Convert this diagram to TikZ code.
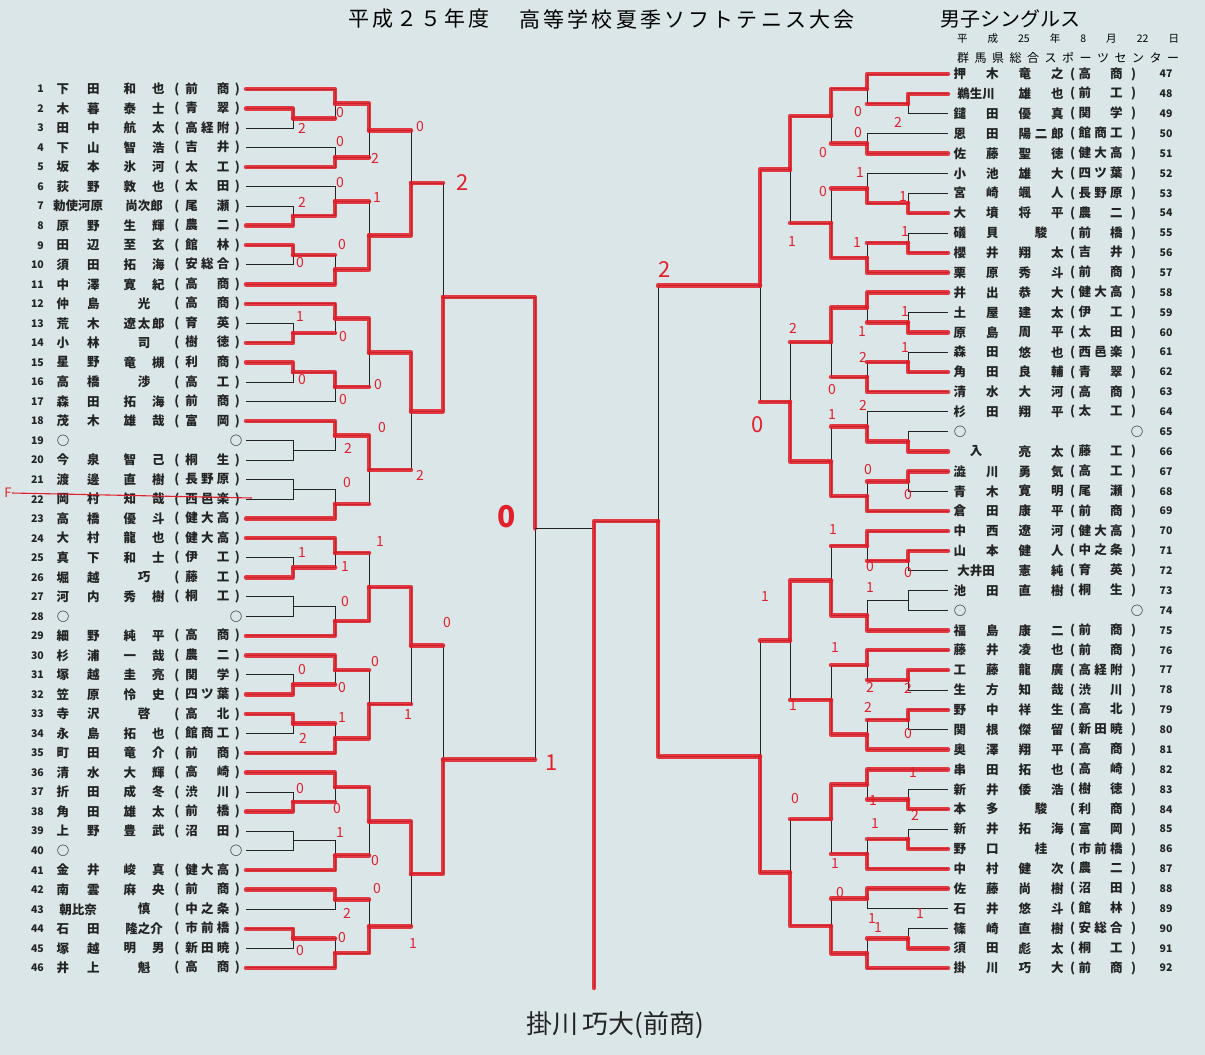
\documentclass[tikz,border=0pt]{standalone}
\usepackage{fontspec}
\setmainfont{Noto Sans CJK JP}
\newfontfamily\ttlfont[LetterSpace=15]{Noto Sans CJK JP}
\usetikzlibrary{calc}
\definecolor{paper}{RGB}{218,230,232}
\definecolor{pen}{RGB}{226,32,44}
\definecolor{ink}{RGB}{35,35,35}

\tikzset{
  br/.style={draw=ink, line width=0.9pt},
  win/.style={draw=pen, line width=4.5pt, opacity=.88, line cap=round, line join=round},
  num/.style={inner sep=0pt, text=ink, font=\fontsize{10.5}{10.5}\selectfont\bfseries},
  nm/.style={inner sep=0pt, text=ink, font=\fontsize{12.5}{12.5}\selectfont\bfseries},
  score/.style={inner sep=0pt, text=pen, font=\fontsize{14}{14}\selectfont},
  bigscore/.style={inner sep=0pt, text=pen, font=\fontsize{22}{22}\selectfont}
}

\newcommand\sprd[2]{#1\hfill #2}
\newcommand\sprdd[3]{#1\hfill #2\hfill #3}

% one row of the left list
\newcommand\nameL[4]{%
  \pgfmathsetmacro\yy{89+(#1-1)*19.53}
  \node[num, anchor=east] (nl#1) at (44,\yy) {#1};
  \node[nm] (snl#1) at (78,\yy) {\makebox[43pt]{#2}};
  \node[nm] (gnl#1) at (144,\yy) {\makebox[41pt]{#3}};
  \node[nm] (cnl#1) at (207,\yy) {(\hspace{6pt}\makebox[44pt]{#4}\hspace{5.5pt})};
  \coordinate (p#1) at (246,\yy);
}
\newcommand\byeL[1]{%
  \pgfmathsetmacro\yy{89+(#1-1)*19.53}
  \node[num, anchor=east] (nl#1) at (44,\yy) {#1};
  \node[nm] (snl#1) at (63,\yy) {○};
  \node[nm] (cnl#1) at (236,\yy) {○};
  \coordinate (p#1) at (246,\yy);
}
% one row of the right list
\newcommand\nameR[4]{%
  \pgfmathsetmacro\yy{74+(#1-47)*19.87}
  \node[num] (nr#1) at (1166,\yy) {#1};
  \node[nm] (snr#1) at (976,\yy) {\makebox[45pt]{#2}};
  \node[nm] (gnr#1) at (1041,\yy) {\makebox[45pt]{#3}};
  \node[nm] (cnr#1) at (1103,\yy) {(\hspace{3.5pt}\makebox[44pt]{#4}\hspace{8.5pt})};
  \coordinate (p#1) at (948,\yy);
}
\newcommand\byeR[1]{%
  \pgfmathsetmacro\yy{74+(#1-47)*19.87}
  \node[num] (nr#1) at (1166,\yy) {#1};
  \node[nm] (snr#1) at (960,\yy) {○};
  \node[nm] (cnr#1) at (1137,\yy) {○};
  \coordinate (p#1) at (948,\yy);
}
% a match: top, bottom, column, result, winner
% 0 none, 1 top, 2 bottom, 3 top (bottom came in red), 4 bottom (top came in red)
\newcommand\bout[5]{%
  \draw[br] (#1) -- (#1 -| #3) -- (#2 -| #3) -- (#2);
  \coordinate (#4) at ($(#1 -| #3)!.5!(#2 -| #3)$);
  \ifcase#5\relax
  \or \draw[win] (#1) -- (#1 -| #3) -- (#4);
  \or \draw[win] (#2) -- (#2 -| #3) -- (#4);
  \or \draw[win] (#1) -- (#1 -| #3) -- (#4); \draw[win] (#2) -- (#2 -| #3);
  \or \draw[win] (#2) -- (#2 -| #3) -- (#4); \draw[win] (#1) -- (#1 -| #3);
  \fi}

\begin{document}
\begin{tikzpicture}[x=1pt, y=-1pt]
\fill[paper] (0,0) rectangle (1205,1055);
\useasboundingbox (0,0) rectangle (1205,1055);

% heading
\node[font=\ttlfont\fontsize{21}{21}\selectfont] (ttl1) at (419,19) {平成２５年度};
\node[font=\ttlfont\fontsize{21}{21}\selectfont] (ttl2) at (687,19) {高等学校夏季ソフトテニス大会};
\node[font=\fontsize{20}{20}\selectfont] (ttl3) at (1010,19) {男子シングルス};
\node[inner sep=0pt, font=\fontsize{10.5}{10.5}\selectfont] (date) at (1068,39)
  {\makebox[222pt]{平\hfill 成\hfill 25\hfill 年\hfill 8\hfill 月\hfill 22\hfill 日}};
\node[inner sep=0pt, font=\fontsize{12}{12}\selectfont] (venue) at (1068,58)
  {\makebox[222pt]{群\hfill 馬\hfill 県\hfill 総\hfill 合\hfill ス\hfill ポ\hfill ー\hfill ツ\hfill セ\hfill ン\hfill タ\hfill ー}};

% left list
\nameL{1}{\sprd 下田}{\sprd 和也}{\sprd 前商}
\nameL{2}{\sprd 木暮}{\sprd 泰士}{\sprd 青翠}
\nameL{3}{\sprd 田中}{\sprd 航太}{\sprdd 高経附}
\nameL{4}{\sprd 下山}{\sprd 智浩}{\sprd 吉井}
\nameL{5}{\sprd 坂本}{\sprd 氷河}{\sprd 太工}
\nameL{6}{\sprd 荻野}{\sprd 敦也}{\sprd 太田}
\nameL{7}{勅使河原}{尚次郎}{\sprd 尾瀬}
\nameL{8}{\sprd 原野}{\sprd 生輝}{\sprd 農二}
\nameL{9}{\sprd 田辺}{\sprd 至玄}{\sprd 館林}
\nameL{10}{\sprd 須田}{\sprd 拓海}{\sprdd 安総合}
\nameL{11}{\sprd 中澤}{\sprd 寛紀}{\sprd 高商}
\nameL{12}{\sprd 仲島}{光}{\sprd 高商}
\nameL{13}{\sprd 荒木}{\sprdd 遼太郎}{\sprd 育英}
\nameL{14}{\sprd 小林}{司}{\sprd 樹徳}
\nameL{15}{\sprd 星野}{\sprd 竜槻}{\sprd 利商}
\nameL{16}{\sprd 高橋}{渉}{\sprd 高工}
\nameL{17}{\sprd 森田}{\sprd 拓海}{\sprd 前商}
\nameL{18}{\sprd 茂木}{\sprd 雄哉}{\sprd 富岡}
\byeL{19}
\nameL{20}{\sprd 今泉}{\sprd 智己}{\sprd 桐生}
\nameL{21}{\sprd 渡邊}{\sprd 直樹}{\sprdd 長野原}
\nameL{22}{\sprd 岡村}{\sprd 知哉}{\sprdd 西邑楽}
\nameL{23}{\sprd 高橋}{\sprd 優斗}{\sprdd 健大高}
\nameL{24}{\sprd 大村}{\sprd 龍也}{\sprdd 健大高}
\nameL{25}{\sprd 真下}{\sprd 和士}{\sprd 伊工}
\nameL{26}{\sprd 堀越}{巧}{\sprd 藤工}
\nameL{27}{\sprd 河内}{\sprd 秀樹}{\sprd 桐工}
\byeL{28}
\nameL{29}{\sprd 細野}{\sprd 純平}{\sprd 高商}
\nameL{30}{\sprd 杉浦}{\sprd 一哉}{\sprd 農二}
\nameL{31}{\sprd 塚越}{\sprd 圭亮}{\sprd 関学}
\nameL{32}{\sprd 笠原}{\sprd 怜史}{\sprdd 四ツ葉}
\nameL{33}{\sprd 寺沢}{啓}{\sprd 高北}
\nameL{34}{\sprd 永島}{\sprd 拓也}{\sprdd 館商工}
\nameL{35}{\sprd 町田}{\sprd 竜介}{\sprd 前商}
\nameL{36}{\sprd 清水}{\sprd 大輝}{\sprd 高崎}
\nameL{37}{\sprd 折田}{\sprd 成冬}{\sprd 渋川}
\nameL{38}{\sprd 角田}{\sprd 雄太}{\sprd 前橋}
\nameL{39}{\sprd 上野}{\sprd 豊武}{\sprd 沼田}
\byeL{40}
\nameL{41}{\sprd 金井}{\sprd 峻真}{\sprdd 健大高}
\nameL{42}{\sprd 南雲}{\sprd 麻央}{\sprd 前商}
\nameL{43}{朝比奈}{慎}{\sprdd 中之条}
\nameL{44}{\sprd 石田}{隆之介}{\sprdd 市前橋}
\nameL{45}{\sprd 塚越}{\sprd 明男}{\sprdd 新田暁}
\nameL{46}{\sprd 井上}{魁}{\sprd 高商}

% right list
\nameR{47}{\sprd 押木}{\sprd 竜之}{\sprd 高商}
\nameR{48}{鵜生川}{\sprd 雄也}{\sprd 前工}
\nameR{49}{\sprd 鑓田}{\sprd 優真}{\sprd 関学}
\nameR{50}{\sprd 恩田}{\sprdd 陽二郎}{\sprdd 館商工}
\nameR{51}{\sprd 佐藤}{\sprd 聖徳}{\sprdd 健大高}
\nameR{52}{\sprd 小池}{\sprd 雄大}{\sprdd 四ツ葉}
\nameR{53}{\sprd 宮崎}{\sprd 颯人}{\sprdd 長野原}
\nameR{54}{\sprd 大墳}{\sprd 将平}{\sprd 農二}
\nameR{55}{\sprd 礒貝}{駿}{\sprd 前橋}
\nameR{56}{\sprd 櫻井}{\sprd 翔太}{\sprd 吉井}
\nameR{57}{\sprd 栗原}{\sprd 秀斗}{\sprd 前商}
\nameR{58}{\sprd 井出}{\sprd 恭大}{\sprdd 健大高}
\nameR{59}{\sprd 土屋}{\sprd 建太}{\sprd 伊工}
\nameR{60}{\sprd 原島}{\sprd 周平}{\sprd 太田}
\nameR{61}{\sprd 森田}{\sprd 悠也}{\sprdd 西邑楽}
\nameR{62}{\sprd 角田}{\sprd 良輔}{\sprd 青翠}
\nameR{63}{\sprd 清水}{\sprd 大河}{\sprd 高商}
\nameR{64}{\sprd 杉田}{\sprd 翔平}{\sprd 太工}
\byeR{65}
\nameR{66}{入}{\sprd 亮太}{\sprd 藤工}
\nameR{67}{\sprd 澁川}{\sprd 勇気}{\sprd 高工}
\nameR{68}{\sprd 青木}{\sprd 寛明}{\sprd 尾瀬}
\nameR{69}{\sprd 倉田}{\sprd 康平}{\sprd 前商}
\nameR{70}{\sprd 中西}{\sprd 遼河}{\sprdd 健大高}
\nameR{71}{\sprd 山本}{\sprd 健人}{\sprdd 中之条}
\nameR{72}{大井田}{\sprd 憲純}{\sprd 育英}
\nameR{73}{\sprd 池田}{\sprd 直樹}{\sprd 桐生}
\byeR{74}
\nameR{75}{\sprd 福島}{\sprd 康二}{\sprd 前商}
\nameR{76}{\sprd 藤井}{\sprd 凌也}{\sprd 前商}
\nameR{77}{\sprd 工藤}{\sprd 龍廣}{\sprdd 高経附}
\nameR{78}{\sprd 生方}{\sprd 知哉}{\sprd 渋川}
\nameR{79}{\sprd 野中}{\sprd 祥生}{\sprd 高北}
\nameR{80}{\sprd 関根}{\sprd 傑留}{\sprdd 新田暁}
\nameR{81}{\sprd 奥澤}{\sprd 翔平}{\sprd 高商}
\nameR{82}{\sprd 串田}{\sprd 拓也}{\sprd 高崎}
\nameR{83}{\sprd 新井}{\sprd 倭浩}{\sprd 樹徳}
\nameR{84}{\sprd 本多}{駿}{\sprd 利商}
\nameR{85}{\sprd 新井}{\sprd 拓海}{\sprd 富岡}
\nameR{86}{\sprd 野口}{桂}{\sprdd 市前橋}
\nameR{87}{\sprd 中村}{\sprd 健次}{\sprd 農二}
\nameR{88}{\sprd 佐藤}{\sprd 尚樹}{\sprd 沼田}
\nameR{89}{\sprd 石井}{\sprd 悠斗}{\sprd 館林}
\nameR{90}{\sprd 篠崎}{\sprd 直樹}{\sprdd 安総合}
\nameR{91}{\sprd 須田}{\sprd 彪太}{\sprd 桐工}
\nameR{92}{\sprd 掛川}{\sprd 巧大}{\sprd 前商}

% columns
\coordinate (xl1) at (293,0); \coordinate (xl2) at (335,0); \coordinate (xl3) at (369,0);
\coordinate (xl4) at (411,0); \coordinate (xl5) at (443,0); \coordinate (xl6) at (535,0);
\coordinate (xr1) at (908,0); \coordinate (xr2) at (867,0); \coordinate (xr3) at (831,0);
\coordinate (xr4) at (790,0); \coordinate (xr5) at (760,0); \coordinate (xr6) at (658,0);

% left, upper quarter
\bout{p2}{p3}{xl1}{a1}{1}
\bout{p1}{a1}{xl2}{a2}{3}
\bout{p4}{p5}{xl2}{a3}{2}
\bout{a2}{a3}{xl3}{a4}{3}
\bout{p7}{p8}{xl1}{b1}{2}
\bout{p6}{b1}{xl2}{b2}{2}
\bout{p9}{p10}{xl1}{b3}{1}
\bout{b3}{p11}{xl2}{b4}{4}
\bout{b2}{b4}{xl3}{b5}{4}
\bout{a4}{b5}{xl4}{ab}{4}
\bout{p13}{p14}{xl1}{c1}{2}
\bout{p12}{c1}{xl2}{c2}{3}
\bout{p15}{p16}{xl1}{c3}{1}
\bout{c3}{p17}{xl2}{c4}{1}
\bout{c2}{c4}{xl3}{c5}{3}
\bout{p19}{p20}{xl1}{d1}{0}
\bout{p18}{d1}{xl2}{d2}{1}
\bout{p21}{p22}{xl1}{d3}{0}
\bout{d3}{p23}{xl2}{d4}{2}
\bout{d2}{d4}{xl3}{d5}{3}
\bout{c5}{d5}{xl4}{cd}{3}
\bout{ab}{cd}{xl5}{q1}{4}
% left, lower quarter
\bout{p25}{p26}{xl1}{e1}{2}
\bout{p24}{e1}{xl2}{e2}{3}
\bout{p27}{p28}{xl1}{e3}{0}
\bout{e3}{p29}{xl2}{e4}{2}
\bout{e2}{e4}{xl3}{e5}{4}
\bout{p31}{p32}{xl1}{f1}{2}
\bout{p30}{f1}{xl2}{f2}{3}
\bout{p33}{p34}{xl1}{f3}{1}
\bout{f3}{p35}{xl2}{f4}{4}
\bout{f2}{f4}{xl3}{f5}{4}
\bout{e5}{f5}{xl4}{ef}{3}
\bout{p37}{p38}{xl1}{g1}{2}
\bout{p36}{g1}{xl2}{g2}{3}
\bout{p39}{p40}{xl1}{g3}{0}
\bout{g3}{p41}{xl2}{g4}{2}
\bout{g2}{g4}{xl3}{g5}{3}
\bout{p42}{p43}{xl2}{h1}{1}
\bout{p44}{p45}{xl1}{h2}{1}
\bout{h2}{p46}{xl2}{h3}{4}
\bout{h1}{h3}{xl3}{h4}{4}
\bout{g5}{h4}{xl4}{gh}{3}
\bout{ef}{gh}{xl5}{q2}{4}
\bout{q1}{q2}{xl6}{lw}{3}

% right, upper quarter
\bout{p48}{p49}{xr1}{i1}{1}
\bout{p47}{i1}{xr2}{i2}{3}
\bout{p50}{p51}{xr2}{i3}{2}
\bout{i2}{i3}{xr3}{i4}{3}
\bout{p53}{p54}{xr1}{j1}{2}
\bout{p52}{j1}{xr2}{j2}{2}
\bout{p55}{p56}{xr1}{j3}{2}
\bout{j3}{p57}{xr2}{j4}{4}
\bout{j2}{j4}{xr3}{j5}{4}
\bout{i4}{j5}{xr4}{ij}{3}
\bout{p59}{p60}{xr1}{k1}{2}
\bout{p58}{k1}{xr2}{k2}{3}
\bout{p61}{p62}{xr1}{k3}{2}
\bout{k3}{p63}{xr2}{k4}{4}
\bout{k2}{k4}{xr3}{k5}{3}
\bout{p65}{p66}{xr1}{l1}{2}
\bout{p64}{l1}{xr2}{l2}{2}
\bout{p67}{p68}{xr1}{l3}{1}
\bout{l3}{p69}{xr2}{l4}{4}
\bout{l2}{l4}{xr3}{l5}{4}
\bout{k5}{l5}{xr4}{kl}{4}
\bout{ij}{kl}{xr5}{q3}{3}
% right, lower quarter
\bout{p71}{p72}{xr1}{n1}{1}
\bout{p70}{n1}{xr2}{n2}{3}
\bout{p73}{p74}{xr1}{n3}{0}
\bout{n3}{p75}{xr2}{n4}{2}
\bout{n2}{n4}{xr3}{n5}{4}
\bout{p77}{p78}{xr1}{o1}{1}
\bout{p76}{o1}{xr2}{o2}{3}
\bout{p79}{p80}{xr1}{o3}{1}
\bout{o3}{p81}{xr2}{o4}{4}
\bout{o2}{o4}{xr3}{o5}{4}
\bout{n5}{o5}{xr4}{no}{3}
\bout{p83}{p84}{xr1}{s1}{2}
\bout{p82}{s1}{xr2}{s2}{3}
\bout{p85}{p86}{xr1}{s3}{2}
\bout{s3}{p87}{xr2}{s4}{4}
\bout{s2}{s4}{xr3}{s5}{3}
\bout{p88}{p89}{xr2}{t1}{1}
\bout{p90}{p91}{xr1}{t2}{2}
\bout{t2}{p92}{xr2}{t3}{4}
\bout{t1}{t3}{xr3}{t4}{4}
\bout{s5}{t4}{xr4}{st}{4}
\bout{no}{st}{xr5}{q4}{4}
\bout{q3}{q4}{xr6}{rw}{4}

% final
\coordinate (fx) at (594,0);
\coordinate (fin) at (594,988);
\draw[br] (lw) -- (lw -| fx) -- (rw -| fx) -- (rw);
\draw[br] (lw -| fx) -- (fin);
\draw[win] (rw) -- (rw -| fx) -- (fin);

% withdrawn player
\node[text=pen, inner sep=0pt, font=\fontsize{13}{13}\selectfont] (fk) at (8,493) {F};
\draw[pen, line width=1.1pt] (fk.east) -- (252,498);

% scores
\foreach \x/\y/\lab [count=\k] in {
  340/113/0, 302/128/2, 420/127/0, 340/142/0, 375/158/2, 340/183/0, 377/198/1,
  302/202/2, 342/245/0, 300/263/0, 300/317/1, 343/337/0, 302/380/0, 378/385/0,
  343/400/0, 382/428/0, 348/448/2, 347/483/0, 420/475/2,
  380/542/1, 302/553/1, 345/567/1, 345/602/0, 447/623/0, 375/662/0, 302/670/0,
  342/688/0, 342/717/1, 408/715/1, 303/738/2, 300/788/0, 337/808/0, 340/832/1,
  375/860/0, 377/888/0, 347/913/2, 342/937/0, 300/950/0, 413/943/1,
  858/112/0, 898/122/2, 858/133/0, 823/153/0, 860/173/1, 823/192/0, 903/197/1,
  905/232/1, 792/242/1, 857/243/1, 793/328/2, 905/312/1, 862/332/1, 905/348/1,
  863/357/2, 832/390/0, 863/405/2, 832/415/1, 868/470/0, 908/495/0,
  833/530/1, 870/567/0, 908/573/0, 870/588/1, 765/597/1, 835/648/1, 870/687/2,
  908/688/2, 793/705/1, 868/707/2, 908/733/0, 913/772/1, 795/798/0, 873/800/1,
  915/815/2, 875/823/1, 835/863/1, 840/892/0, 920/913/1, 872/918/1, 878/927/1}
  \node[score] (sc\k) at (\x,\y) {\lab};
\foreach \x/\y/\lab [count=\k] in {463/183/2, 552/763/1, 665/270/2, 758/425/0}
  \node[bigscore] (bs\k) at (\x,\y) {\lab};
\node[bigscore, font=\fontsize{30}{30}\selectfont\bfseries] (bs0) at (507,517) {0};

% champion, written under the chart
\node[inner sep=0pt, text=ink, font=\fontsize{26}{26}\selectfont] (champ) at (615,1025) {掛川\,巧大(前商)};
\end{tikzpicture}
\end{document}
